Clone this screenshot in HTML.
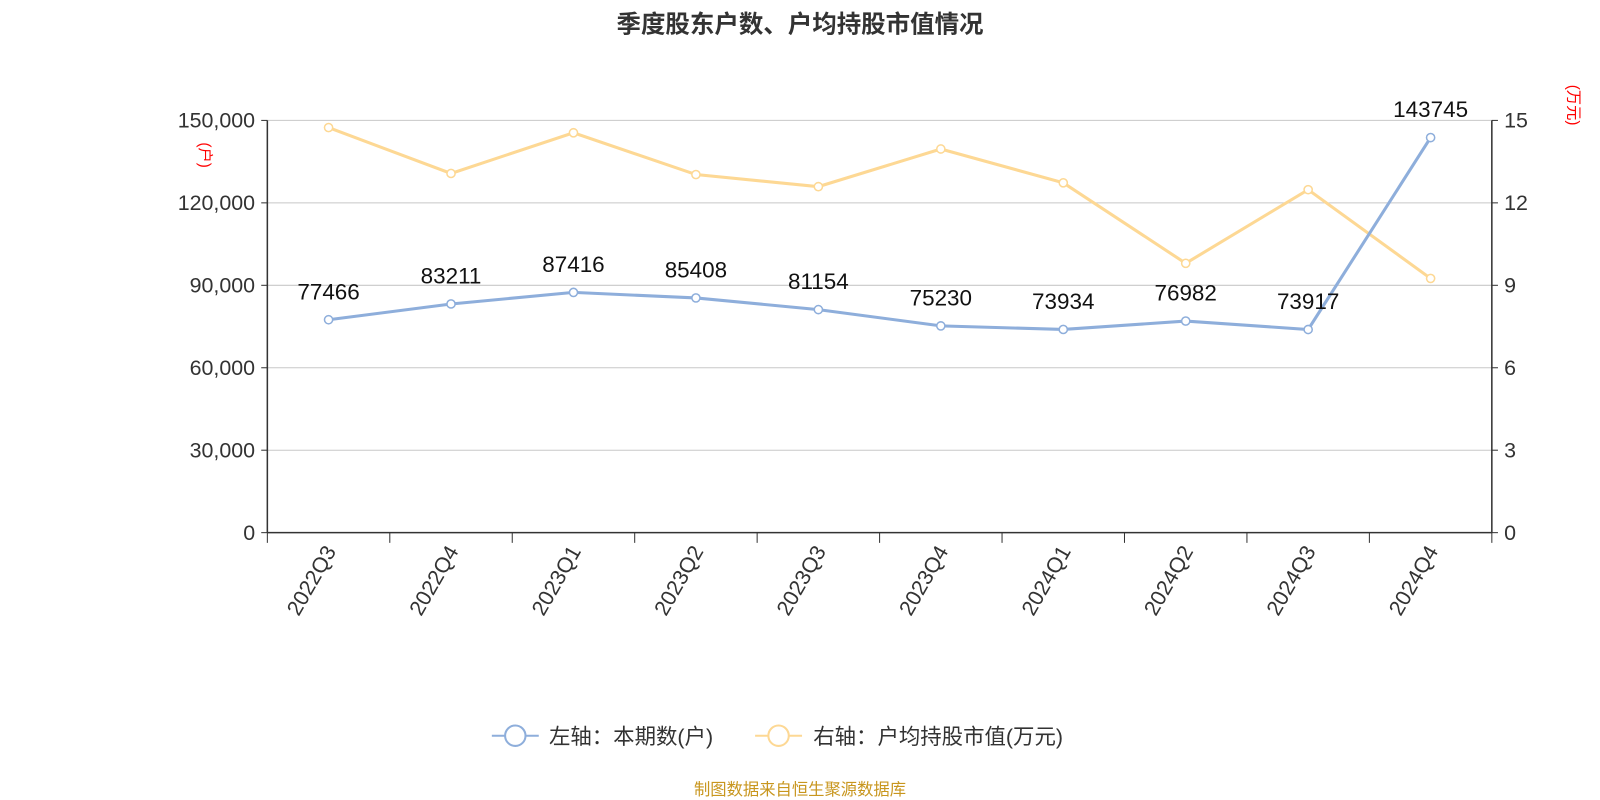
<!DOCTYPE html>
<html><head><meta charset="utf-8"><style>
body{margin:0;background:#fff;}
svg{display:block;font-family:"Liberation Sans","Noto Sans CJK SC",sans-serif;}
</style></head><body>
<svg id="chart" width="1600" height="800" viewBox="0 0 1568 784">
<text x="784" y="32" text-anchor="middle" font-size="24" font-weight="bold" fill="#333">季度股东户数、户均持股市值情况</text>
<text transform="translate(196,152) rotate(90)" text-anchor="middle" font-size="15" fill="#f00">(户)</text>
<text transform="translate(1537,103) rotate(90)" text-anchor="middle" font-size="15" fill="#f00">(万元)</text>
<g id="grid"></g><g id="axes"></g><g id="series"></g>
<g>
<line x1="482" y1="721" x2="528" y2="721" stroke="#8eaedb" stroke-width="2"/>
<circle cx="505" cy="721" r="10" fill="#fff" stroke="#8eaedb" stroke-width="2"/>
<text x="538" y="729" font-size="21" fill="#333">左轴：本期数(户)</text>
<line x1="740" y1="721" x2="786" y2="721" stroke="#fdd894" stroke-width="2"/>
<circle cx="763" cy="721" r="10" fill="#fff" stroke="#fdd894" stroke-width="2"/>
<text x="797" y="729" font-size="21" fill="#333">右轴：户均持股市值(万元)</text>
</g>
<text x="784" y="779" text-anchor="middle" font-size="16" fill="#c8961e">制图数据来自恒生聚源数据库</text>
</svg>
<script>
const categories=["2022Q3","2022Q4","2023Q1","2023Q2","2023Q3","2023Q4","2024Q1","2024Q2","2024Q3","2024Q4"];
const holders=[77466,83211,87416,85408,81154,75230,73934,76982,73917,143745];
const avgValue=[14.74,13.07,14.55,13.03,12.59,13.96,12.73,9.80,12.48,9.25];
const leftTicks=[0,30000,60000,90000,120000,150000];
const rightTicks=[0,3,6,9,12,15];
const NS="http://www.w3.org/2000/svg";
const X0=262,X1=1462,Y0=522,Y1=118;
const step=(X1-X0)/categories.length;
const xs=i=>X0+step*(i+0.5);
const yl=v=>Y0-(v/150000)*(Y0-Y1);
const yr=v=>Y0-(v/15)*(Y0-Y1);
function mk(tag,attrs,parent,text){const e=document.createElementNS(NS,tag);for(const k in attrs)e.setAttribute(k,attrs[k]);if(text!==undefined)e.textContent=text;parent.appendChild(e);return e;}
const grid=document.getElementById('grid'),axes=document.getElementById('axes'),ser=document.getElementById('series');
leftTicks.forEach((t,i)=>{
  const y=yl(t);
  if(t>0){const g=mk('line',{x1:X0,x2:X1,y1:y,y2:y,stroke:'#c8c8c8','stroke-width':1},grid);
  
  }
  mk('line',{x1:X0-6,x2:X0,y1:y,y2:y,stroke:'#333'},axes);
  const lt=mk('text',{x:X0-12,y:y+7,'text-anchor':'end','font-size':21,fill:'#333'},axes,t.toLocaleString('en-US'));
  
  
});
rightTicks.forEach(t=>{
  const y=yr(t);
  mk('line',{x1:X1,x2:X1+6,y1:y,y2:y,stroke:'#333'},axes);
  const rt=mk('text',{x:X1+12,y:y+7,'font-size':21,fill:'#333'},axes,String(t));
  
  
});
const la=mk('line',{x1:X0,x2:X0,y1:Y1,y2:Y0,stroke:'#333','stroke-width':1.5},axes);


const ra=mk('line',{x1:X1,x2:X1,y1:Y1,y2:Y0,stroke:'#333','stroke-width':1.5},axes);


const xa=mk('line',{x1:X0,x2:X1,y1:Y0,y2:Y0,stroke:'#333','stroke-width':1.5},axes);


for(let i=0;i<=categories.length;i++){const x=X0+step*i;mk('line',{x1:x,x2:x,y1:Y0,y2:Y0+10,stroke:'#333'},axes);}
categories.forEach((c,i)=>{
  const x=xs(i);
  const t=mk('text',{transform:`translate(${x+8},${Y0+18}) rotate(-60)`,'text-anchor':'end','font-size':21,fill:'#333'},axes,c);
  
  
});
const p2=mk('polyline',{points:avgValue.map((v,i)=>xs(i)+','+yr(v)).join(' '),fill:'none',stroke:'#fdd894','stroke-width':3},ser);


const p1=mk('polyline',{points:holders.map((v,i)=>xs(i)+','+yl(v)).join(' '),fill:'none',stroke:'#8eaedb','stroke-width':3},ser);


avgValue.forEach((v,i)=>{
  const c=mk('circle',{cx:xs(i),cy:yr(v),r:4,fill:'#fff',stroke:'#fdd894','stroke-width':1.5},ser);
  
  
});
holders.forEach((v,i)=>{
  const c=mk('circle',{cx:xs(i),cy:yl(v),r:4,fill:'#fff',stroke:'#8eaedb','stroke-width':1.5},ser);
  
  
  const t=mk('text',{x:xs(i),y:yl(v)-20,'text-anchor':'middle','font-size':22,fill:'#111'},ser,String(v));
  
  
});
</script>
</body></html>
